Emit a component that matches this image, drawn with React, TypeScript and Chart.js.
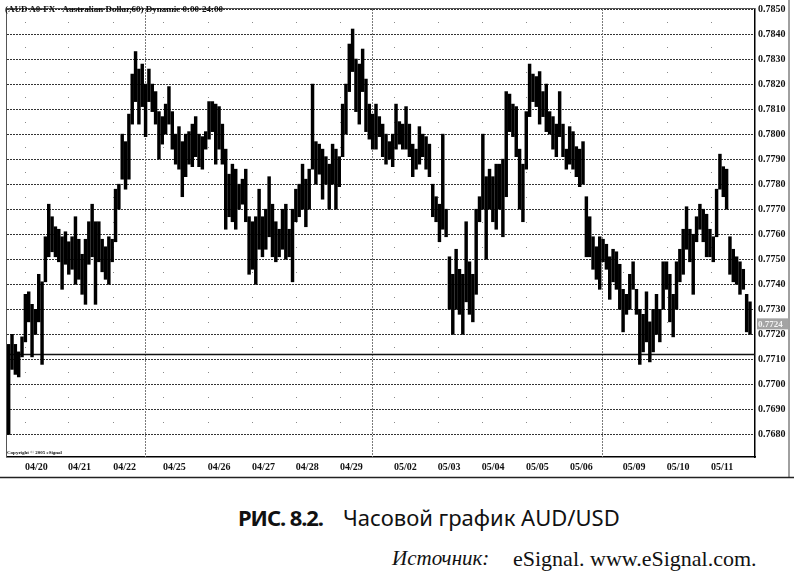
import React, { useEffect, useRef } from "react";
import { Chart, registerables } from "chart.js";
Chart.register(...registerables);

// Hourly-ish AUD/USD bars (high / low), left to right
const highs = [
  0.7716, 0.7720, 0.7716, 0.7713, 0.7719, 0.7736, 0.7737, 0.7732, 0.7730, 0.7744,
  0.7741, 0.7759, 0.7772, 0.7767, 0.7763, 0.7762, 0.7759, 0.7761, 0.7757, 0.7759,
  0.7767, 0.7758, 0.7752, 0.7758, 0.7765, 0.7772, 0.7765, 0.7765, 0.7758, 0.7755,
  0.7759, 0.7758, 0.7778, 0.7780, 0.7800, 0.7797, 0.7808, 0.7824, 0.7833, 0.7826,
  0.7828, 0.7820, 0.7826, 0.7820, 0.7817, 0.7809, 0.7807, 0.7812, 0.7819, 0.7809,
  0.7800, 0.7803, 0.7797, 0.7800, 0.7801,
  0.7804, 0.7807, 0.7800, 0.7799, 0.7801, 0.7813, 0.7813, 0.7812, 0.7811, 0.7804,
  0.7794, 0.7784, 0.7788, 0.7786, 0.7780, 0.7782, 0.7786, 0.7767, 0.7765, 0.7767,
  0.7778, 0.7767, 0.7770, 0.7783, 0.7772, 0.7765, 0.7762, 0.7770, 0.7772, 0.7762,
  0.7770, 0.7778, 0.7780, 0.7788, 0.7782, 0.7786, 0.7820, 0.7797, 0.7796, 0.7794,
  0.7791, 0.7788, 0.7796, 0.7794, 0.7791, 0.7812, 0.7820, 0.7836, 0.7842, 0.7830,
  0.7828, 0.7834, 0.7822, 0.7812, 0.7808,
  0.7812, 0.7807, 0.7804, 0.7800, 0.7797, 0.7800, 0.7812, 0.7805, 0.7804, 0.7811,
  0.7804, 0.7796, 0.7794, 0.7803, 0.7800, 0.7799, 0.7796, 0.7780, 0.7775, 0.7772,
  0.7800, 0.7770, 0.7751, 0.7744, 0.7754, 0.7746, 0.7744, 0.7765, 0.7749, 0.7744,
  0.7770, 0.7775, 0.7800, 0.7783, 0.7786, 0.7783, 0.7788, 0.7788, 0.7790, 0.7817,
  0.7816, 0.7812, 0.7811, 0.7794, 0.7788, 0.7809, 0.7828, 0.7824, 0.7823, 0.7825,
  0.7817, 0.7820, 0.7809, 0.7807, 0.7804,
  0.7817, 0.7804, 0.7794, 0.7803, 0.7801, 0.7795, 0.7794, 0.7797, 0.7775, 0.7767,
  0.7759, 0.7755, 0.7759, 0.7758, 0.7756, 0.7751, 0.7754, 0.7753, 0.7748, 0.7738,
  0.7736, 0.7744, 0.7749, 0.7738, 0.7730, 0.7728, 0.7737, 0.7725, 0.7730, 0.7736,
  0.7730, 0.7749, 0.7749, 0.7744, 0.7736, 0.7749, 0.7754, 0.7762, 0.7771, 0.7762,
  0.7760, 0.7767, 0.7772, 0.7770, 0.7768, 0.7762, 0.7759, 0.7778, 0.7792, 0.7787,
  0.7786, 0.7759, 0.7754, 0.7751, 0.7749, 0.7746, 0.7736, 0.7733,
];
const lows = [
  0.7680, 0.7706, 0.7704, 0.7703, 0.7711, 0.7717, 0.7725, 0.7711, 0.7720, 0.7725,
  0.7708, 0.7741, 0.7751, 0.7753, 0.7751, 0.7749, 0.7738, 0.7748, 0.7744, 0.7746,
  0.7740, 0.7742, 0.7736, 0.7732, 0.7748, 0.7751, 0.7732, 0.7749, 0.7745, 0.7742,
  0.7740, 0.7749, 0.7757, 0.7770, 0.7782, 0.7778, 0.7782, 0.7804, 0.7813, 0.7804,
  0.7811, 0.7799, 0.7813, 0.7809, 0.7804, 0.7790, 0.7796, 0.7800, 0.7804, 0.7794,
  0.7788, 0.7786, 0.7775, 0.7783, 0.7788,
  0.7787, 0.7791, 0.7787, 0.7786, 0.7794, 0.7798, 0.7801, 0.7788, 0.7794, 0.7788,
  0.7762, 0.7767, 0.7765, 0.7762, 0.7770, 0.7772, 0.7765, 0.7744, 0.7746, 0.7740,
  0.7754, 0.7751, 0.7754, 0.7759, 0.7751, 0.7749, 0.7751, 0.7754, 0.7750, 0.7751,
  0.7741, 0.7765, 0.7767, 0.7770, 0.7763, 0.7770, 0.7786, 0.7780, 0.7784, 0.7774,
  0.7780, 0.7770, 0.7780, 0.7770, 0.7779, 0.7791, 0.7800, 0.7817, 0.7825, 0.7809,
  0.7804, 0.7817, 0.7801, 0.7798, 0.7794,
  0.7794, 0.7799, 0.7791, 0.7788, 0.7790, 0.7787, 0.7794, 0.7796, 0.7794, 0.7794,
  0.7791, 0.7783, 0.7786, 0.7788, 0.7791, 0.7786, 0.7783, 0.7767, 0.7765, 0.7757,
  0.7762, 0.7759, 0.7730, 0.7720, 0.7730, 0.7728, 0.7720, 0.7733, 0.7728, 0.7725,
  0.7736, 0.7765, 0.7770, 0.7750, 0.7770, 0.7765, 0.7762, 0.7770, 0.7759, 0.7775,
  0.7801, 0.7799, 0.7791, 0.7770, 0.7765, 0.7786, 0.7807, 0.7813, 0.7811, 0.7804,
  0.7807, 0.7801, 0.7800, 0.7794, 0.7791,
  0.7799, 0.7791, 0.7786, 0.7788, 0.7786, 0.7783, 0.7779, 0.7780, 0.7751, 0.7751,
  0.7746, 0.7742, 0.7738, 0.7749, 0.7746, 0.7734, 0.7741, 0.7738, 0.7730, 0.7721,
  0.7728, 0.7730, 0.7738, 0.7728, 0.7708, 0.7713, 0.7717, 0.7709, 0.7713, 0.7720,
  0.7717, 0.7730, 0.7738, 0.7725, 0.7719, 0.7730, 0.7741, 0.7744, 0.7754, 0.7749,
  0.7736, 0.7757, 0.7762, 0.7757, 0.7751, 0.7751, 0.7749, 0.7759, 0.7778, 0.7775,
  0.7770, 0.7744, 0.7741, 0.7740, 0.7736, 0.7738, 0.7721, 0.7720,
];

const dateLabels = [
  "04/20", "04/21", "04/22", "04/25", "04/26", "04/27", "04/28", "04/29",
  "05/02", "05/03", "05/04", "05/05", "05/06", "05/09", "05/10", "05/11",
];
// bar index at which each day starts
const dateTickIdx = [
  4.9, 17.8, 31.3, 46.2, 59.6, 72.9, 86.0, 99.2,
  115.4, 128.5, 141.7, 154.9, 168.1, 183.9, 197.1, 210.3,
];
const weekSeparatorIdx = [40.8, 108.8, 177.6];
const priceTicks = [
  0.768, 0.769, 0.77, 0.771, 0.772, 0.773, 0.774, 0.775, 0.776,
  0.777, 0.778, 0.779, 0.78, 0.781, 0.782, 0.783, 0.784, 0.785,
];
const supportLevel = 0.77122;
const lastPrice = 0.7724;
const chartTitle = "(AUD A0-FX - Australian Dollar,60) Dynamic 0:00-24:00";

const decorPlugin = {
  id: "decor",
  beforeDatasetsDraw(chart: any) {
    const { ctx, chartArea: a, scales } = chart;
    const xs = scales.x;
    const ys = scales.y;
    ctx.save();
    // minor dots between grid lines on day columns
    ctx.fillStyle = "#8a8a8a";
    for (const t of dateTickIdx) {
      const px = Math.round(xs.getPixelForValue(t));
      for (const p of priceTicks) {
        const v = p + 0.0005;
        if (v > ys.max) continue;
        const py = Math.round(ys.getPixelForValue(v));
        ctx.fillRect(px, py, 1, 1);
      }
    }
    // week separators
    ctx.strokeStyle = "#7a7a7a";
    ctx.lineWidth = 1;
    ctx.setLineDash([2, 1]);
    for (const w of weekSeparatorIdx) {
      const px = Math.round(xs.getPixelForValue(w)) + 0.5;
      ctx.beginPath();
      ctx.moveTo(px, a.top);
      ctx.lineTo(px, a.bottom);
      ctx.stroke();
    }
    ctx.setLineDash([]);
    // support line
    const sy = Math.round(ys.getPixelForValue(supportLevel)) + 0.5;
    ctx.strokeStyle = "#111";
    ctx.lineWidth = 1.5;
    ctx.beginPath();
    ctx.moveTo(a.left, sy);
    ctx.lineTo(a.right, sy);
    ctx.stroke();
    ctx.restore();
  },
  afterDraw(chart: any) {
    const { ctx, chartArea: a, scales, width } = chart;
    const ys = scales.y;
    ctx.save();
    // left & top borders
    ctx.strokeStyle = "#555";
    ctx.lineWidth = 1;
    ctx.beginPath();
    ctx.moveTo(a.left - 0.5, a.bottom);
    ctx.lineTo(a.left - 0.5, a.top - 0.5);
    ctx.lineTo(a.right, a.top - 0.5);
    ctx.stroke();
    // outer frame
    ctx.strokeStyle = "#a0a0a0";
    ctx.lineWidth = 2;
    ctx.beginPath();
    ctx.moveTo(789, 0);
    ctx.lineTo(789, 478);
    ctx.stroke();
    ctx.strokeStyle = "#222";
    ctx.lineWidth = 1.5;
    ctx.beginPath();
    ctx.moveTo(0, 477.5);
    ctx.lineTo(width, 477.5);
    ctx.stroke();
    // last price box
    const ly = ys.getPixelForValue(lastPrice);
    ctx.fillStyle = "#a3a3a3";
    ctx.fillRect(a.right + 2, ly - 6, 31, 11);
    ctx.fillStyle = "#f4f4f4";
    ctx.font = 'bold 9px "Liberation Serif"';
    ctx.textBaseline = "middle";
    ctx.textAlign = "left";
    ctx.fillText(lastPrice.toFixed(4), a.right + 3, ly);
    ctx.restore();
  },
};

export default function App() {
  const ref = useRef<HTMLCanvasElement | null>(null);
  useEffect(() => {
    if (!ref.current) return;
    const chart = new Chart(ref.current, {
      type: "bar",
      data: {
        datasets: [
          {
            data: highs.map((h, i) => ({ x: i, y: [lows[i], h] })) as any,
            backgroundColor: "#000",
            borderWidth: 0,
            barThickness: 2.8,
            grouped: false,
          } as any,
        ],
      },
      options: {
        animation: false,
        responsive: false,
        maintainAspectRatio: false,
        layout: { padding: { left: 7, top: 4, right: 0, bottom: 3 } },
        plugins: { legend: { display: false }, tooltip: { enabled: false }, title: { display: false } },
        scales: {
          x: {
            type: "linear",
            offset: false,
            min: -0.5,
            max: 223.5,
            position: "bottom",
            grid: { display: false, drawTicks: false, offset: false },
            border: { display: true, color: "#000", width: 1.5 },
            afterBuildTicks: (s: any) => {
              s.ticks = dateTickIdx.map((v) => ({ value: v }));
            },
            afterFit: (s: any) => {
              s.height = 20;
            },
            ticks: {
              autoSkip: false,
              maxRotation: 0,
              align: "start",
              padding: 4,
              color: "#111",
              font: { family: '"Liberation Serif"', size: 10, weight: "bold" },
              callback: (_v: any, i: number) => dateLabels[i],
            },
          } as any,
          y: {
            type: "linear",
            position: "right",
            min: 0.7671,
            max: 0.785,
            afterBuildTicks: (s: any) => {
              s.ticks = priceTicks.map((v) => ({ value: v }));
            },
            afterFit: (s: any) => {
              s.width = 39;
            },
            grid: { color: "#333", lineWidth: 1, drawTicks: false },
            border: { display: true, color: "#000", width: 1.5, dash: [2, 1] },
            ticks: {
              padding: 3,
              color: "#111",
              font: { family: '"Liberation Serif"', size: 10, weight: "bold" },
              callback: (v: any) => Number(v).toFixed(4),
            },
          } as any,
        },
      },
      plugins: [decorPlugin],
    });
    return () => chart.destroy();
  }, []);

  const abs = (o: any): any => ({ position: "absolute", whiteSpace: "nowrap", lineHeight: 1, margin: 0, ...o });

  return (
    <div style={{ position: "fixed", left: 0, top: 0, width: 794, height: 577, background: "#fff", overflow: "hidden" }}>
      <canvas ref={ref} width={794} height={480} style={{ position: "absolute", left: 0, top: 0, width: 794, height: 480 }} />
      <div style={abs({ left: 5, top: 4, font: 'bold 9px "Liberation Serif"', color: "#111" })}>{chartTitle}</div>
      <div style={abs({ left: 7, top: 450, font: 'bold 5px "Liberation Serif"', color: "#111" })}>Copyright © 2005 eSignal</div>
      <div style={abs({ left: 238, top: 502, font: 'bold 22px "Noto Sans"', letterSpacing: "-1.1px", color: "#111" })}>РИС. 8.2.</div>
      <div style={abs({ left: 343, top: 502, font: '22px "Noto Sans"', color: "#111" })}>Часовой график AUD/USD</div>
      <div style={abs({ left: 392, top: 546, font: 'italic 21px "Liberation Serif"', color: "#111" })}>Источник:</div>
      <div style={abs({ left: 513, top: 546, font: '22px "Liberation Serif"', color: "#111" })}>eSignal. www.eSignal.com.</div>
    </div>
  );
}
